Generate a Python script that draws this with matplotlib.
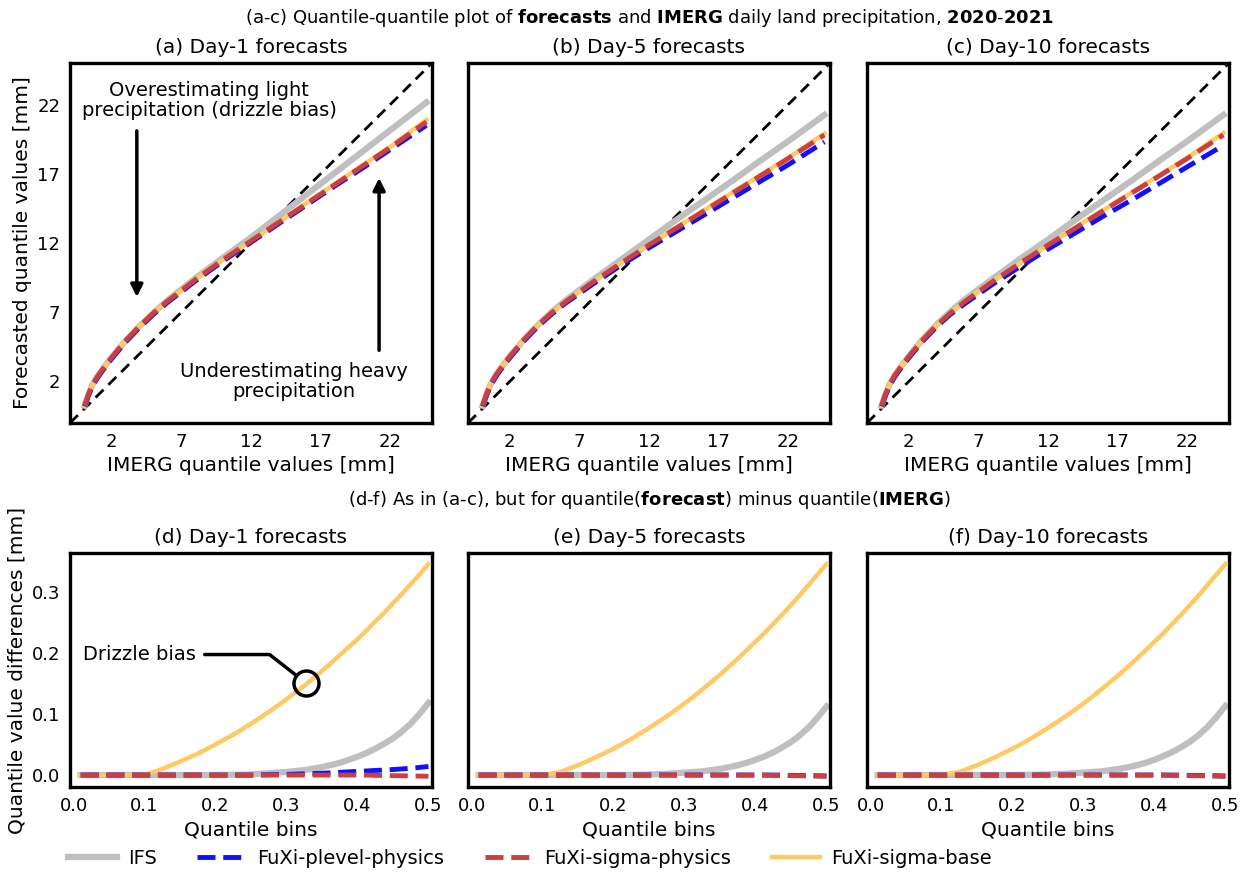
import matplotlib
matplotlib.use("Agg")
import matplotlib.pyplot as plt

# ---- data ----
# (a-c) quantile-quantile: IMERG quantiles [mm] vs forecast quantiles [mm]
imerg_q = [0.05, 0.3, 0.6, 1, 1.5, 2, 3, 4, 5, 6, 8, 10, 12, 14, 16, 18, 20, 22, 24.6]

ifs_qq = {
    "a": [0.25, 1.0, 1.75, 2.4, 3.1, 3.75, 4.95, 6.0, 6.95, 7.85, 9.45, 10.95, 12.4, 13.95, 15.5, 17.05, 18.6, 20.15, 22.15],
    "b": [0.25, 1.0, 1.75, 2.45, 3.15, 3.8, 5.0, 6.05, 7.0, 7.85, 9.35, 10.8, 12.25, 13.7, 15.1, 16.5, 17.95, 19.35, 21.25],
    "c": [0.25, 1.0, 1.75, 2.45, 3.15, 3.8, 5.05, 6.1, 7.05, 7.9, 9.4, 10.85, 12.25, 13.7, 15.1, 16.5, 17.95, 19.35, 21.25],
}
plevel_qq = {
    "a": [0.2, 0.9, 1.65, 2.3, 3.0, 3.65, 4.85, 5.9, 6.85, 7.7, 9.25, 10.7, 12.05, 13.4, 14.75, 16.1, 17.4, 18.75, 20.5],
    "b": [0.2, 0.9, 1.65, 2.35, 3.05, 3.7, 4.9, 5.95, 6.85, 7.65, 9.05, 10.4, 11.65, 12.85, 14.05, 15.25, 16.45, 17.65, 19.3],
    "c": [0.2, 0.9, 1.65, 2.35, 3.05, 3.7, 4.9, 5.95, 6.85, 7.6, 9.0, 10.3, 11.55, 12.75, 13.95, 15.1, 16.3, 17.5, 19.05],
}
sigma_phys_qq = {
    "a": [0.25, 1.0, 1.75, 2.4, 3.1, 3.75, 4.95, 6.0, 6.95, 7.8, 9.35, 10.8, 12.15, 13.5, 14.85, 16.2, 17.55, 18.9, 20.75],
    "b": [0.25, 1.0, 1.75, 2.45, 3.15, 3.8, 5.0, 6.05, 6.95, 7.75, 9.2, 10.55, 11.85, 13.1, 14.35, 15.6, 16.85, 18.1, 19.8],
    "c": [0.25, 1.0, 1.75, 2.45, 3.15, 3.8, 5.0, 6.05, 6.95, 7.75, 9.2, 10.55, 11.85, 13.1, 14.35, 15.6, 16.85, 18.1, 19.8],
}
sigma_base_qq = {
    "a": [0.25, 1.0, 1.75, 2.4, 3.1, 3.75, 4.95, 6.0, 6.95, 7.8, 9.35, 10.8, 12.15, 13.5, 14.9, 16.25, 17.6, 18.95, 20.9],
    "b": [0.25, 1.0, 1.75, 2.45, 3.15, 3.8, 5.0, 6.05, 6.95, 7.75, 9.2, 10.55, 11.85, 13.15, 14.4, 15.65, 16.9, 18.15, 19.9],
    "c": [0.25, 1.0, 1.75, 2.45, 3.15, 3.8, 5.0, 6.05, 6.95, 7.75, 9.2, 10.55, 11.85, 13.15, 14.4, 15.65, 16.9, 18.15, 19.95],
}

# (d-f) quantile(forecast) - quantile(IMERG) per quantile bin
bins = [0.01, 0.025, 0.05, 0.075, 0.1, 0.125, 0.15, 0.175, 0.2, 0.225, 0.25, 0.275,
        0.3, 0.3125, 0.325, 0.3375, 0.35, 0.3625, 0.375, 0.3875, 0.4,
        0.4125, 0.425, 0.4375, 0.45, 0.4625, 0.475, 0.4875, 0.5]

ifs_diff = {
    "d": [0, 0, 0, 0, 0, 0, 0, 0, 0, 0.0005, 0.001, 0.003,
          0.005, 0.0065, 0.008, 0.0105, 0.013, 0.0163, 0.02, 0.0248, 0.03,
          0.036, 0.043, 0.051, 0.06, 0.071, 0.084, 0.1, 0.118],
    "e": [0, 0, 0, 0, 0, 0, 0, 0, 0, 0.0003, 0.001, 0.002,
          0.004, 0.005, 0.006, 0.008, 0.01, 0.0128, 0.016, 0.02, 0.025,
          0.0305, 0.037, 0.045, 0.054, 0.065, 0.078, 0.094, 0.112],
    "f": [0, 0, 0, 0, 0, 0, 0, 0, 0, 0.0003, 0.001, 0.002,
          0.004, 0.005, 0.006, 0.008, 0.01, 0.0128, 0.016, 0.02, 0.025,
          0.031, 0.0375, 0.0455, 0.0545, 0.0655, 0.079, 0.095, 0.113],
}
plevel_diff = {
    "d": [0, 0, 0, 0, 0, 0, 0, 0, 0, 0, 0, 0.0005,
          0.001, 0.0015, 0.002, 0.0025, 0.003, 0.0037, 0.0045, 0.0052, 0.006,
          0.0067, 0.0075, 0.0082, 0.009, 0.01, 0.011, 0.0125, 0.014],
    "e": [0, 0, 0, 0, 0, 0, 0, 0, 0, 0, 0, 0,
          0, 0, 0, 0, 0, 0, 0, 0, 0,
          0, 0, 0, -0.0005, -0.0007, -0.001, -0.0012, -0.0015],
    "f": [0, 0, 0, 0, 0, 0, 0, 0, 0, 0, 0, 0,
          0, 0, 0, 0, 0, 0, 0, 0, 0,
          0, 0, 0, -0.0005, -0.0007, -0.001, -0.0012, -0.0015],
}
sigma_phys_diff = {
    "d": [0, 0, 0, 0, 0, 0, 0, 0, 0, 0, 0, 0,
          0, 0, 0, 0, 0, 0, 0, 0, 0,
          0, -0.0005, -0.0007, -0.001, -0.0012, -0.0015, -0.0017, -0.002],
    "e": [0, 0, 0, 0, 0, 0, 0, 0, 0, 0, 0, 0,
          0, 0, 0, 0, 0, 0, 0, 0, 0,
          0, -0.0005, -0.0007, -0.001, -0.0012, -0.0015, -0.0017, -0.002],
    "f": [0, 0, 0, 0, 0, 0, 0, 0, 0, 0, 0, 0,
          0, 0, 0, 0, 0, 0, 0, 0, 0,
          0, -0.0005, -0.0007, -0.001, -0.0012, -0.0015, -0.0017, -0.002],
}
sigma_base_diff = {
    "d": [0, 0, 0, 0, 0, 0.010, 0.022, 0.035, 0.050, 0.066, 0.084, 0.103,
          0.124, 0.135, 0.146, 0.158, 0.170, 0.183, 0.196, 0.209, 0.222,
          0.236, 0.251, 0.265, 0.281, 0.296, 0.312, 0.328, 0.345],
    "e": [0, 0, 0, 0, 0, 0.005, 0.016, 0.029, 0.043, 0.059, 0.077, 0.096,
          0.117, 0.128, 0.140, 0.152, 0.164, 0.177, 0.190, 0.204, 0.218,
          0.232, 0.247, 0.262, 0.278, 0.294, 0.311, 0.328, 0.345],
    "f": [0, 0, 0, 0, 0, 0.005, 0.016, 0.029, 0.043, 0.059, 0.077, 0.096,
          0.117, 0.128, 0.140, 0.152, 0.164, 0.177, 0.190, 0.204, 0.218,
          0.232, 0.247, 0.262, 0.278, 0.294, 0.311, 0.328, 0.345],
}

top_titles = ["(a) Day-1 forecasts", "(b) Day-5 forecasts", "(c) Day-10 forecasts"]
bot_titles = ["(d) Day-1 forecasts", "(e) Day-5 forecasts", "(f) Day-10 forecasts"]
qq_ticks = [2, 7, 12, 17, 22]
diff_xticks = [0.0, 0.1, 0.2, 0.3, 0.4, 0.5]
diff_yticks = [0.0, 0.1, 0.2, 0.3]

C_IFS = "#bfbfbf"
C_PLEVEL = "#1010ff"
C_SPHYS = "#cc3f3f"
C_SBASE = "#ffc966"

fig = plt.figure(figsize=(12.5, 8.75), dpi=100)

lefts = [0.056, 0.3744, 0.6936]
width = 0.2896


def style_axes(ax):
    for sp in ax.spines.values():
        sp.set_linewidth(2.4)
    ax.tick_params(length=0, labelsize=13, pad=7)


def draw_lines(ax, x, ifs, plev, sphys, sbase):
    l1, = ax.plot(x, ifs, color=C_IFS, lw=4.5, zorder=2, label="IFS")
    l4, = ax.plot(x, sbase, color=C_SBASE, lw=3.2, zorder=3, label="FuXi-sigma-base")
    l2, = ax.plot(x, plev, color=C_PLEVEL, lw=3.5, ls="--", zorder=4, label="FuXi-plevel-physics")
    l3, = ax.plot(x, sphys, color=C_SPHYS, lw=3.5, ls="--", zorder=5, label="FuXi-sigma-physics")
    return [l1, l2, l3, l4]


# top row: Q-Q plots
for i, key in enumerate(["a", "b", "c"]):
    ax = fig.add_axes([lefts[i], 0.5166, width, 0.4114])
    style_axes(ax)
    ax.axline((0, 0), slope=1, color="k", lw=2, ls=(0, (4, 2.5)), zorder=1)
    draw_lines(ax, imerg_q, ifs_qq[key], plevel_qq[key], sigma_phys_qq[key], sigma_base_qq[key])
    ax.set_xlim(-1, 25)
    ax.set_ylim(-1, 25)
    ax.set_xticks(qq_ticks)
    ax.set_yticks(qq_ticks)
    if i > 0:
        ax.tick_params(labelleft=False)
    else:
        ax.set_ylabel("Forecasted quantile values [mm]", fontsize=14.5)
    ax.set_xlabel("IMERG quantile values [mm]", fontsize=14.5, labelpad=4)
    ax.set_title(top_titles[i], fontsize=14.5, pad=7)
    if key == "a":
        ax.text(9.0, 22.3, "Overestimating light\nprecipitation (drizzle bias)",
                ha="center", va="center", fontsize=14, linespacing=1.05)
        ax.annotate("", xy=(3.8, 7.9), xytext=(3.8, 20.3),
                    arrowprops=dict(arrowstyle="-|>", lw=2.5, color="k", mutation_scale=18))
        ax.text(15.1, 2.0, "Underestimating heavy\nprecipitation",
                ha="center", va="center", fontsize=14, linespacing=1.05)
        ax.annotate("", xy=(21.2, 16.9), xytext=(21.2, 4.05),
                    arrowprops=dict(arrowstyle="-|>", lw=2.5, color="k", mutation_scale=18))

# bottom row: quantile differences
handles = None
for i, key in enumerate(["d", "e", "f"]):
    ax = fig.add_axes([lefts[i], 0.1006, width, 0.2674])
    style_axes(ax)
    lines = draw_lines(ax, bins, ifs_diff[key], plevel_diff[key], sigma_phys_diff[key], sigma_base_diff[key])
    if handles is None:
        handles = lines
    ax.set_xlim(-0.005, 0.505)
    ax.set_ylim(-0.0195, 0.363)
    ax.set_xticks(diff_xticks)
    ax.set_yticks(diff_yticks)
    if i > 0:
        ax.tick_params(labelleft=False)
    else:
        ax.set_ylabel("Quantile value differences [mm]", fontsize=14.5)
    ax.set_xlabel("Quantile bins", fontsize=14.5, labelpad=4)
    ax.set_title(bot_titles[i], fontsize=14.5, pad=7)
    if key == "d":
        ax.plot([0.328], [0.150], "o", ms=18, mfc="none", mec="k", mew=2.5, zorder=6)
        ax.annotate("Drizzle bias", xy=(0.328, 0.150), xytext=(0.014, 0.197),
                    fontsize=14, va="center", ha="left",
                    arrowprops=dict(arrowstyle="-", lw=2.5, color="k",
                                    connectionstyle="angle,angleA=0,angleB=-38,rad=0",
                                    shrinkA=4, shrinkB=9))

fig.text(0.52, 0.979, r"(a-c) Quantile-quantile plot of $\bf{forecasts}$ and $\bf{IMERG}$ daily land precipitation, $\bf{2020}$-$\bf{2021}$",
         ha="center", va="center", fontsize=13)
fig.text(0.52, 0.429, r"(d-f) As in (a-c), but for quantile($\bf{forecast}$) minus quantile($\bf{IMERG}$)",
         ha="center", va="center", fontsize=13)

fig.legend(handles, [h.get_label() for h in handles], loc="center", bbox_to_anchor=(0.424, 0.019),
           ncol=4, frameon=False, fontsize=14, handlelength=2.5, handletextpad=0.55,
           columnspacing=2.1)

fig.savefig("out.png", dpi=100)
